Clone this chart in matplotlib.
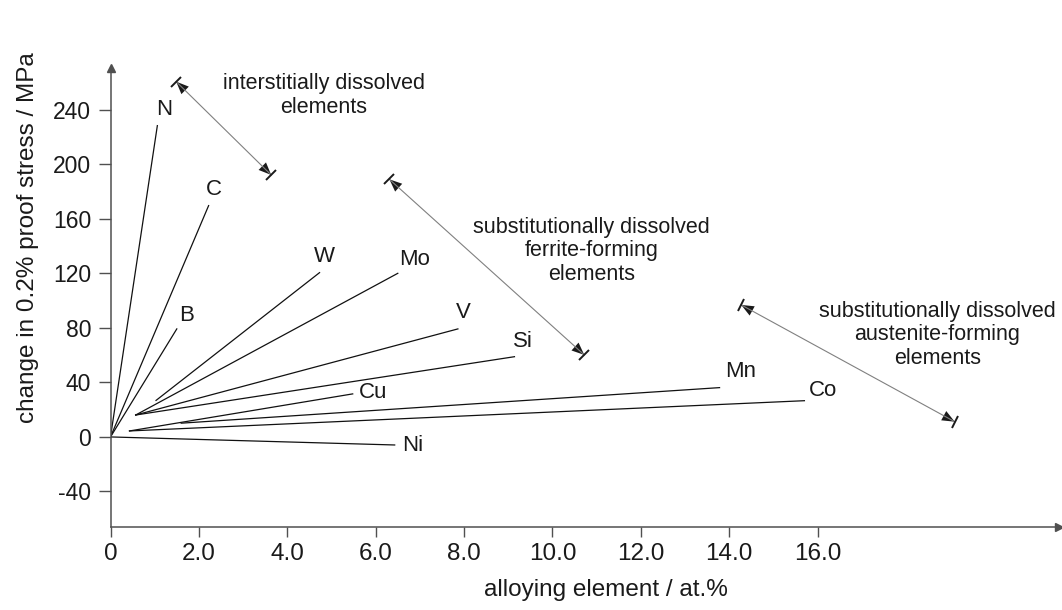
import numpy as np
import matplotlib
matplotlib.use("Agg")
import matplotlib.pyplot as plt
from matplotlib.patches import FancyArrowPatch
from matplotlib.markers import MarkerStyle
from matplotlib.transforms import Affine2D

plt.rcParams['font.family'] = ['Liberation Sans', 'DejaVu Sans']
plt.rcParams['axes.unicode_minus'] = False

# -------- datos --------
elementos = ['N', 'C', 'B', 'W', 'Mo', 'V', 'Si', 'Cu', 'Mn', 'Co', 'Ni']
# inicio y fin de cada recta (at.% , MPa)
x_ini = [0, 0, 0, 1.03, 0.57, 0.57, 0.57, 0.43, 1.60, 0.43, 0]
y_ini = [0, 0, 0, 26.8, 16.1, 16.1, 16.1, 4.4, 10.1, 4.4, 0]
x_fin = [1.06, 2.22, 1.50, 4.73, 6.50, 7.86, 9.14, 5.48, 13.78, 15.70, 6.43]
y_fin = [228.5, 169.8, 79.3, 120.6, 120.1, 79.3, 58.9, 31.6, 36.2, 26.6, -5.9]

# posicion de las etiquetas de cada elemento
x_etiq = [1.22, 2.35, 1.72, 4.84, 6.88, 7.99, 9.34, 5.95, 14.25, 16.11, 6.83]
y_etiq = [240, 181.3, 89.5, 132.1, 130.6, 91, 69.7, 32.3, 47.7, 33.8, -6.6]

grupos = ['interstitially dissolved\nelements',
          'substitutionally dissolved\nferrite-forming\nelements',
          'substitutionally dissolved\naustenite-forming\nelements']
x_grupo = [4.82, 10.88, 18.71]
y_grupo = [250.6, 136.5, 74.9]

# flechas dobles que marcan cada grupo
flecha_x0 = [1.486, 6.31, 14.27]
flecha_y0 = [260.8, 189.1, 96.9]
flecha_x1 = [3.636, 10.72, 19.10]
flecha_y1 = [192.3, 60.2, 11.2]

xticks = [0, 2, 4, 6, 8, 10, 12, 14, 16]
xticklabels = ['0', '2.0', '4.0', '6.0', '8.0', '10.0', '12.0', '14.0', '16.0']
yticks = [-40, 0, 40, 80, 120, 160, 200, 240]

# -------- figura --------
fig = plt.figure(figsize=(10.62, 6.10), dpi=100)
ax = fig.add_axes([0.10405, 0.13607, 0.8927, 0.75246])
ax.set_xlim(0, 21.45)
ax.set_ylim(-66.1, 270.8)

col_eje = '#505050'
col_txt = '#1a1a1a'

for i in range(len(elementos)):
    ax.plot([x_ini[i], x_fin[i]], [y_ini[i], y_fin[i]], color='#111111', linewidth=0.9)
    ax.text(x_etiq[i], y_etiq[i], elementos[i], ha='center', va='center',
            fontsize=16, color=col_txt)

for i in range(len(grupos)):
    ax.text(x_grupo[i], y_grupo[i], grupos[i], ha='center', va='center',
            fontsize=15.5, color=col_txt, linespacing=1.15)
    p0 = (flecha_x0[i], flecha_y0[i])
    p1 = (flecha_x1[i], flecha_y1[i])
    # linea gris fina
    ax.plot([p0[0], p1[0]], [p0[1], p1[1]], color='#808080', linewidth=0.8)
    # cabezas negras rellenas (sin trazo)
    ax.add_patch(FancyArrowPatch(p0, p1, arrowstyle='<|-|>,head_length=0.9,head_width=0.38',
                                 mutation_scale=10, facecolor='#1a1a1a', edgecolor='none',
                                 linewidth=0, shrinkA=0, shrinkB=0))
    # barra perpendicular en cada punta
    d0 = ax.transData.transform(p0)
    d1 = ax.transData.transform(p1)
    ang = np.degrees(np.arctan2(d1[1] - d0[1], d1[0] - d0[0]))
    barra = MarkerStyle('|', transform=Affine2D().rotate_deg(ang))
    ax.plot([p0[0], p1[0]], [p0[1], p1[1]], linestyle='none', marker=barra,
            markersize=10, markeredgewidth=1.4, color='#1a1a1a')

# ejes con flecha
for s in ['top', 'right']:
    ax.spines[s].set_visible(False)
for s in ['left', 'bottom']:
    ax.spines[s].set_color(col_eje)
    ax.spines[s].set_linewidth(1.1)
ax.plot(0, 1, marker='^', color=col_eje, markersize=6, transform=ax.transAxes, clip_on=False)
ax.plot(1, 0, marker='>', color=col_eje, markersize=6, transform=ax.transAxes, clip_on=False)

ax.set_xticks(xticks)
ax.set_xticklabels(xticklabels)
ax.set_yticks(yticks)
ax.tick_params(axis='x', direction='out', length=7, width=1.0, color=col_eje,
               labelsize=17.5, labelcolor=col_txt, pad=4.5)
ax.tick_params(axis='y', direction='out', length=9, width=1.0, color=col_eje,
               labelsize=16.5, labelcolor=col_txt, pad=5)

ax.set_xlabel('alloying element / at.%', fontsize=17.5, color=col_txt)
ax.xaxis.set_label_coords(0.523, -0.113)
ax.set_ylabel('change in 0.2% proof stress / MPa', fontsize=17.5, color=col_txt)
ax.yaxis.set_label_coords(-0.0758, 0.631)

fig.savefig('out.png', dpi=100)
